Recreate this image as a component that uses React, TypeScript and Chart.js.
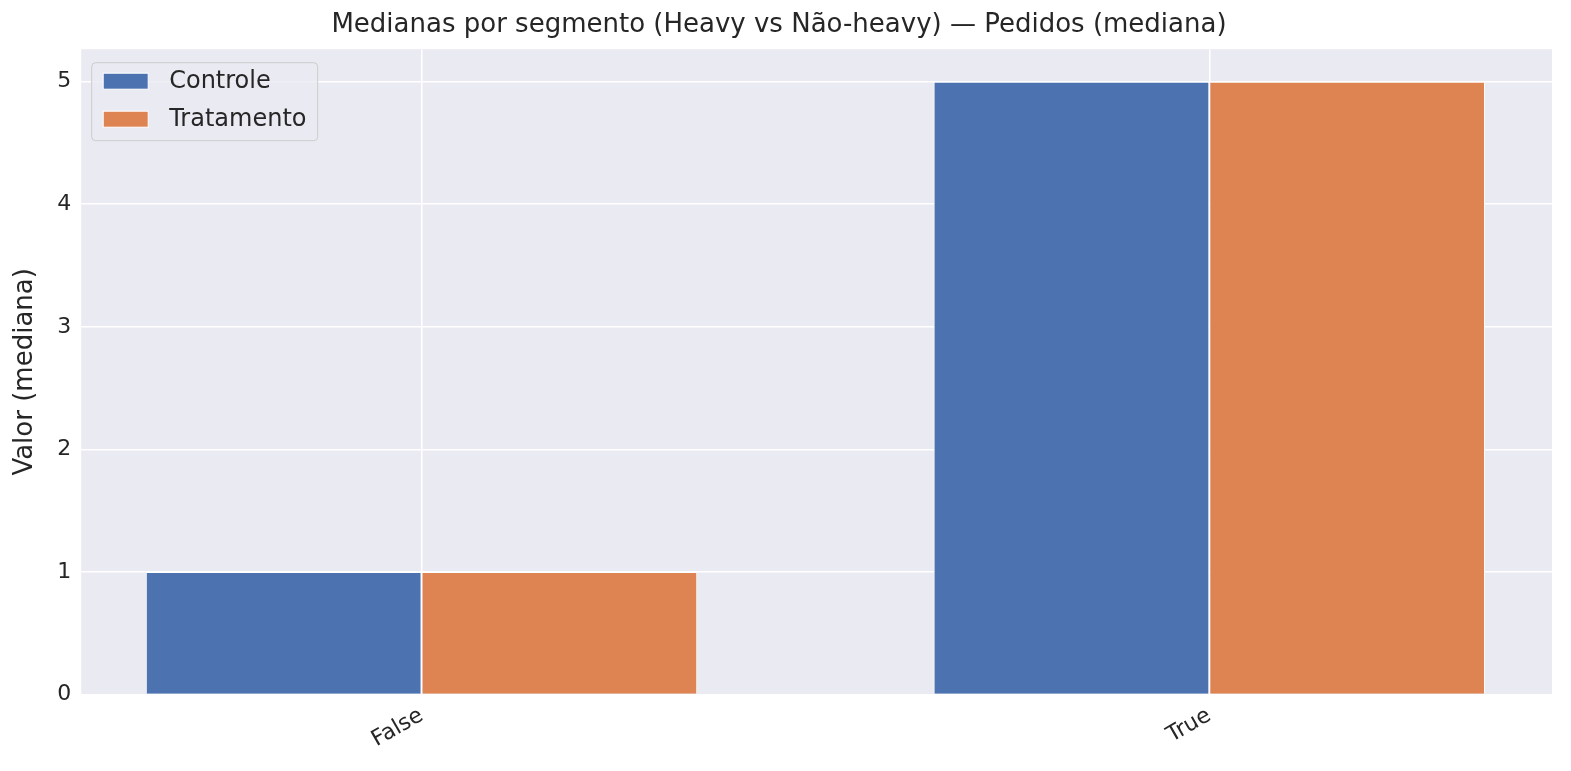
import React, { useEffect, useRef } from "react";
import { Chart, registerables } from "chart.js";
Chart.register(...registerables);

const categories = ["False", "True"];
const controle = [1, 5];
const tratamento = [1, 5];
const seriesNames = ["Controle", "Tratamento"];
const colors = ["#4C72B0", "#DD8452"];
const yTicks = [0, 1, 2, 3, 4, 5];

const FONT = "'DejaVu Sans', sans-serif";

export default function App() {
  const ref = useRef<HTMLCanvasElement>(null);
  useEffect(() => {
    document.body.style.margin = "0";
    const bg = {
      id: "bg",
      beforeDraw(c: any) {
        const { ctx, chartArea: a } = c;
        ctx.save();
        ctx.fillStyle = "#EAEAF2";
        ctx.fillRect(a.left, a.top, a.right - a.left, a.bottom - a.top);
        ctx.restore();
      },
      afterDraw(c: any) {
        const { ctx, chartArea: a } = c;
        const x = a.left + 10, y = a.top + 13;
        ctx.save();
        ctx.fillStyle = "rgba(234,234,242,0.8)";
        ctx.strokeStyle = "#CCCCCC";
        ctx.lineWidth = 1;
        ctx.beginPath();
        ctx.roundRect(x + 0.5, y + 0.5, 226, 78, 4);
        ctx.fill();
        ctx.stroke();
        ctx.font = `24px ${FONT}`;
        ctx.textBaseline = "middle";
        seriesNames.forEach((n, i) => {
          const cy = y + 19 + i * 38;
          ctx.fillStyle = colors[i];
          ctx.fillRect(x + 12, cy - 8, 45, 16);
          ctx.strokeStyle = "#FFFFFF";
          ctx.strokeRect(x + 12, cy - 8, 45, 16);
          ctx.fillStyle = "#262626";
          ctx.fillText(n, x + 78, cy + 1);
        });
        ctx.restore();
      },
    };
    const chart = new Chart(ref.current!, {
      type: "bar",
      data: {
        datasets: [controle, tratamento].map((vals, i) => ({
          label: seriesNames[i],
          data: vals.map((v, j) => ({ x: j, y: v })),
          backgroundColor: colors[i],
          borderColor: "#FFFFFF",
          borderWidth: 1,
          categoryPercentage: 0.7,
          barPercentage: 1,
        })),
      },
      options: {
        animation: false,
        responsive: false,
        layout: { padding: { left: 6, right: 19, top: 0, bottom: 10 } },
        plugins: {
          legend: { display: false },
          tooltip: { enabled: false },
          title: {
            display: true,
            text: "Medianas por segmento (Heavy vs Não-heavy) — Pedidos (mediana)",
            color: "#262626",
            font: { family: FONT, size: 26, weight: "normal" },
            padding: { top: 10, bottom: 8 },
          },
        },
        scales: {
          x: {
            type: "linear",
            offset: false,
            min: -0.432,
            max: 1.435,
            afterBuildTicks: (s: any) => {
              s.ticks = categories.map((_, i) => ({ value: i }));
            },
            ticks: {
              callback: (v: any) => categories[v] ?? "",
              maxRotation: 30,
              minRotation: 30,
              color: "#262626",
              font: { family: FONT, size: 22 },
              padding: 8,
            },
            grid: { color: "#FFFFFF", lineWidth: 1.5, drawTicks: false, offset: false },
            border: { display: false },
          },
          y: {
            min: 0,
            max: 5.265,
            afterBuildTicks: (s: any) => {
              s.ticks = yTicks.map((v) => ({ value: v }));
            },
            ticks: {
              color: "#262626",
              font: { family: FONT, size: 22 },
              padding: 10,
            },
            title: {
              display: true,
              text: "Valor (mediana)",
              color: "#262626",
              font: { family: FONT, size: 26 },
              padding: { bottom: 6 },
            },
            grid: { color: "#FFFFFF", lineWidth: 1.5, drawTicks: false },
            border: { display: false },
          },
        },
      },
      plugins: [bg],
    });
    return () => chart.destroy();
  }, []);
  return (
    <div style={{ width: 1571, height: 771, background: "#fff" }}>
      <canvas ref={ref} width={1571} height={771} />
    </div>
  );
}
